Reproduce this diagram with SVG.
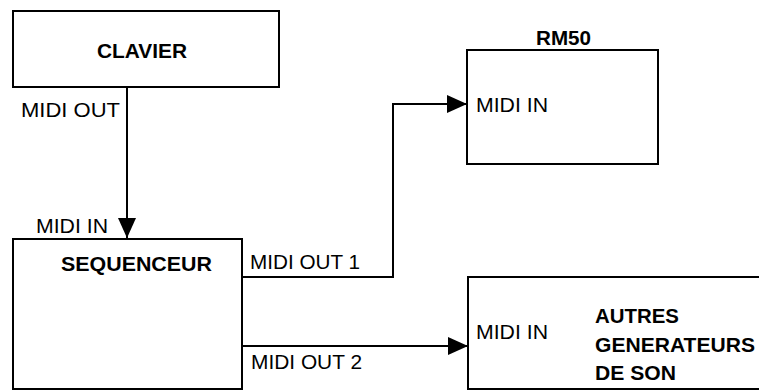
<svg xmlns="http://www.w3.org/2000/svg" width="759" height="391" viewBox="0 0 759 391">
<style>
.box{fill:#fff;stroke:#000;stroke-width:2}
.wire{fill:none;stroke:#000;stroke-width:2}
text{font-family:"Liberation Sans",Arial,sans-serif;font-size:20.5px;fill:#000}
.b{font-weight:bold}
</style>
<defs>
<marker id="arr" viewBox="0 0 20 18" refX="20" refY="9" markerWidth="20" markerHeight="18" markerUnits="userSpaceOnUse" orient="auto">
<path d="M0,0 L20,9 L0,18 Z" fill="#000"/>
</marker>
</defs>
<g id="clavier">
<rect class="box" x="13" y="11" width="266" height="76"/>
<text class="b" x="97" y="58" textLength="90" lengthAdjust="spacingAndGlyphs">CLAVIER</text>
<text x="21" y="117" textLength="99" lengthAdjust="spacingAndGlyphs">MIDI OUT</text>
</g>
<g id="sequenceur">
<rect class="box" x="13" y="239" width="229" height="150"/>
<text class="b" x="61" y="271" textLength="151" lengthAdjust="spacingAndGlyphs">SEQUENCEUR</text>
<text x="36" y="233" textLength="72" lengthAdjust="spacingAndGlyphs">MIDI IN</text>
<text x="250" y="269" textLength="110" lengthAdjust="spacingAndGlyphs">MIDI OUT 1</text>
<text x="251" y="369" textLength="111" lengthAdjust="spacingAndGlyphs">MIDI OUT 2</text>
</g>
<g id="rm50">
<rect class="box" x="467" y="50" width="191" height="114"/>
<text class="b" x="536" y="45" textLength="55" lengthAdjust="spacingAndGlyphs">RM50</text>
<text x="476" y="112" textLength="72" lengthAdjust="spacingAndGlyphs">MIDI IN</text>
</g>
<g id="autres">
<rect class="box" x="468" y="277" width="300" height="112"/>
<text x="476" y="339" textLength="72" lengthAdjust="spacingAndGlyphs">MIDI IN</text>
<text class="b" x="595" y="323" textLength="84" lengthAdjust="spacingAndGlyphs">AUTRES</text>
<text class="b" x="595" y="352" textLength="160" lengthAdjust="spacingAndGlyphs">GENERATEURS</text>
<text class="b" x="595" y="380" textLength="81" lengthAdjust="spacingAndGlyphs">DE SON</text>
</g>
<g id="connectors">
<path class="wire" d="M127,87 V238" marker-end="url(#arr)"/>
<path class="wire" d="M242,277 H393 V104 H467" marker-end="url(#arr)"/>
<path class="wire" d="M242,346 H468" marker-end="url(#arr)"/>
</g>
</svg>
